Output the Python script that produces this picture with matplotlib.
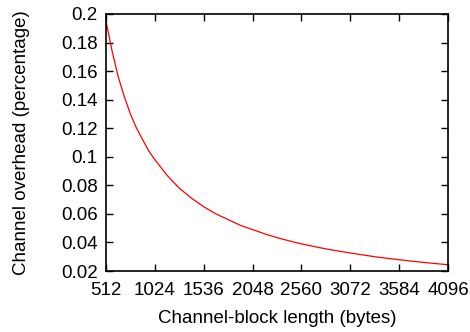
import matplotlib
matplotlib.use('Agg')
import matplotlib.pyplot as plt

plt.rcParams['font.family'] = ['Liberation Sans', 'DejaVu Sans']

# channel-block length (bytes) and the resulting channel overhead
block_len = [512, 576, 640, 704, 768, 832, 896, 960, 1024, 1152, 1280, 1408,
             1536, 1664, 1792, 1920, 2048, 2176, 2304, 2432, 2560, 2688,
             2816, 2944, 3072, 3200, 3328, 3456, 3584, 3712, 3840, 3968, 4096]
overhead = [0.195, 0.174, 0.156, 0.142, 0.130, 0.120, 0.112, 0.104, 0.098,
            0.087, 0.078, 0.071, 0.065, 0.060, 0.056, 0.052, 0.049, 0.046,
            0.0434, 0.0411, 0.039, 0.0372, 0.0355, 0.034, 0.0326, 0.0313,
            0.030, 0.0289, 0.0279, 0.0269, 0.026, 0.0252, 0.0244]

x_ticks = [512, 1024, 1536, 2048, 2560, 3072, 3584, 4096]
y_ticks = [0.02, 0.04, 0.06, 0.08, 0.1, 0.12, 0.14, 0.16, 0.18, 0.2]
y_labels = ['0.02', '0.04', '0.06', '0.08', '0.1', '0.12', '0.14', '0.16', '0.18', '0.2']

fig = plt.figure(figsize=(4.7, 3.32), dpi=100)
ax = fig.add_axes([106 / 470, 1 - 271 / 332, (448 - 106) / 470, (271 - 14) / 332])

ax.plot(block_len, overhead, color='#ff0000', linewidth=0.9)

ax.set_xlim(512, 4096)
ax.set_ylim(0.02, 0.2)
ax.set_xticks(x_ticks)
ax.set_yticks(y_ticks)
ax.set_yticklabels(y_labels)
ax.tick_params(direction='in', top=True, right=True, length=5, width=1,
               labelsize=13.5)
ax.tick_params(axis='y', pad=6)
ax.tick_params(axis='x', pad=8)
for s in ax.spines.values():
    s.set_linewidth(1.2)

ax.set_xlabel('Channel-block length (bytes)', fontsize=13.5, labelpad=8)
ax.set_ylabel('Channel overhead (percentage)', fontsize=13.5, labelpad=22)

plt.savefig('out.png', dpi=100)
